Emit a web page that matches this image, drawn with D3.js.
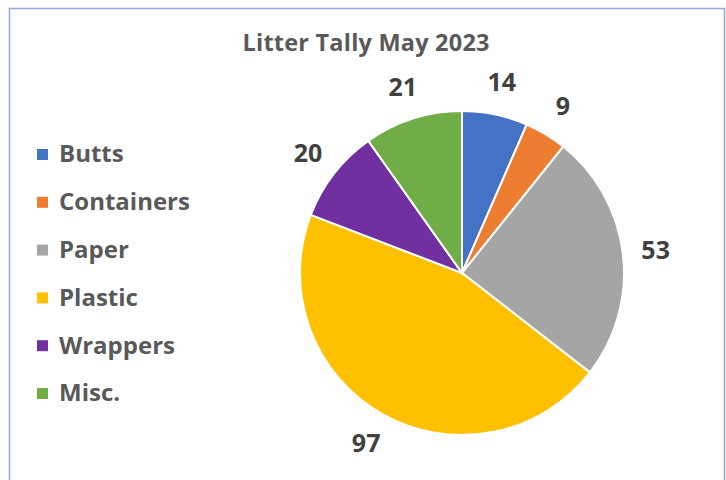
<!DOCTYPE html>
<html>
<head>
<meta charset="utf-8">
<title>Litter Tally May 2023</title>
<style>
  body { margin: 0; background: #fff; }
  text { font-family: "Open Sans", Lato, sans-serif; font-weight: bold; }
</style>
</head>
<body>
<script src="https://cdn.jsdelivr.net/npm/d3@7"></script>
<svg width="726" height="480" id="mainsvg"></svg>
<script>
  // litter counts by category
  const categories = ['Butts', 'Containers', 'Paper', 'Plastic', 'Wrappers', 'Misc.'];
  const counts = [14, 9, 53, 97, 20, 21];
  const colors = ['#4472C4', '#ED7D31', '#A5A5A5', '#FFC000', '#7030A0', '#70AD47'];

  const svg = d3.select('#mainsvg');
  const cx = 462, cy = 273, r = 162;

  // frame (bottom edge runs off the picture)
  svg.append('rect')
    .attr('x', 9.5).attr('y', 8.5)
    .attr('width', 715).attr('height', 490)
    .attr('fill', '#fff')
    .attr('stroke', '#8FA9D9')
    .attr('stroke-width', 1.5);

  svg.append('text')
    .attr('x', 366).attr('y', 51)
    .attr('text-anchor', 'middle')
    .attr('fill', '#595959')
    .attr('font-size', 23.5)
    .attr('textLength', 247)
    .text('Litter Tally May 2023');

  const data = categories.map((c, i) => ({ name: c, value: counts[i], color: colors[i] }));
  const pie = d3.pie().value(d => d.value).sort(null);
  const arcs = pie(data);
  const arc = d3.arc().innerRadius(0).outerRadius(r);
  const labelArc = d3.arc().innerRadius(195).outerRadius(195);

  const g = svg.append('g').attr('transform', `translate(${cx},${cy})`);
  g.selectAll('path')
    .data(arcs)
    .join('path')
    .attr('d', arc)
    .attr('fill', d => d.data.color)
    .attr('stroke', '#fff')
    .attr('stroke-width', 2);

  g.selectAll('text')
    .data(arcs)
    .join('text')
    .attr('transform', d => `translate(${labelArc.centroid(d)})`)
    .attr('text-anchor', 'middle')
    .attr('dy', '0.35em')
    .attr('fill', '#404040')
    .attr('font-size', 25)
    .text(d => d.data.value);

  // legend
  const legend = svg.append('g')
    .selectAll('g')
    .data(data)
    .join('g')
    .attr('transform', (d, i) => `translate(37,${154 + i * 47.8})`);
  legend.append('rect')
    .attr('x', 0).attr('y', -5)
    .attr('width', 11).attr('height', 11)
    .attr('fill', d => d.color);
  legend.append('text')
    .attr('x', 22).attr('dy', '0.35em')
    .attr('fill', '#595959')
    .attr('font-size', 24)
    .text(d => d.name);
</script>
</body>
</html>
